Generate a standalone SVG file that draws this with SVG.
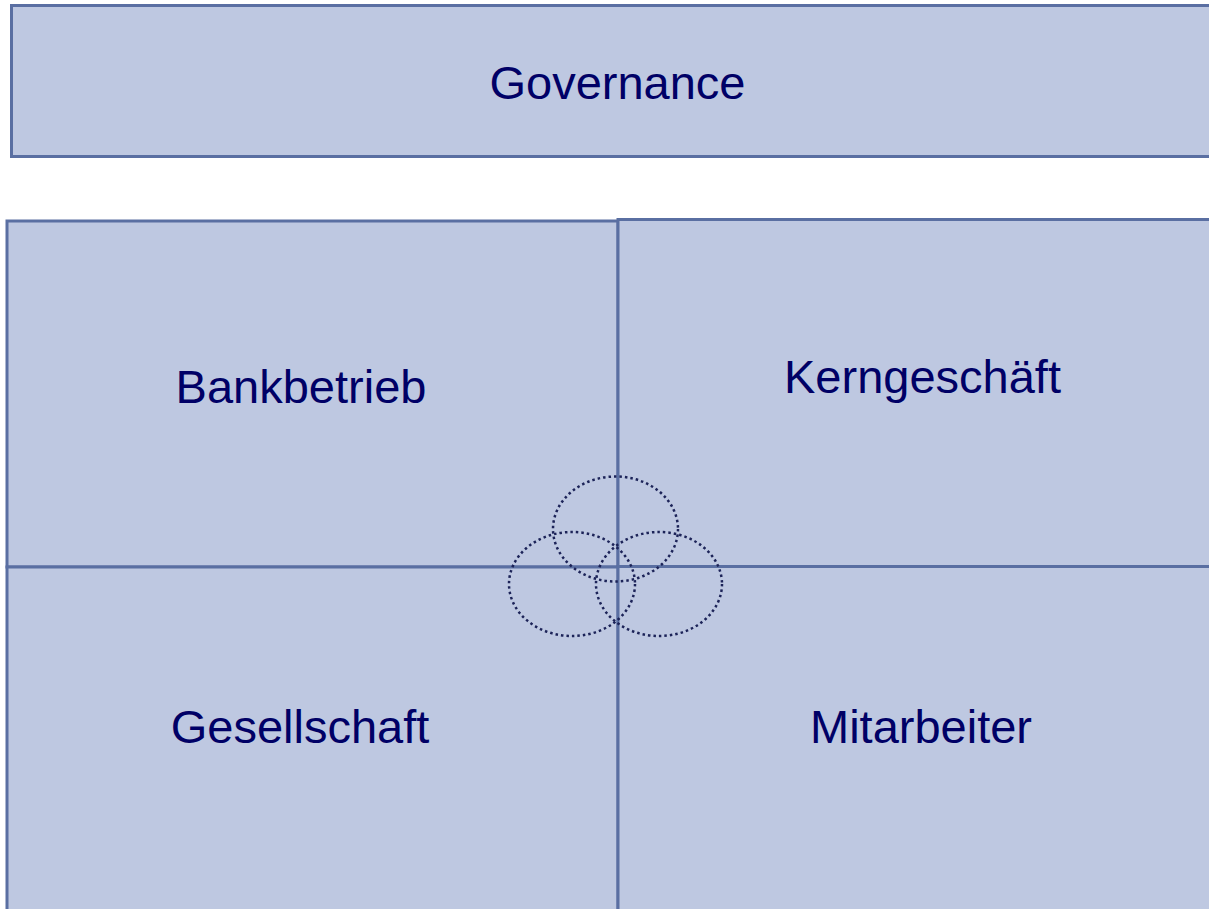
<svg xmlns="http://www.w3.org/2000/svg" width="1209" height="909" viewBox="0 0 1209 909">
  <style>
    .box { fill: #bec8e1; stroke: #5a6fa2; stroke-width: 3; }
    .lbl { font-family: "Liberation Sans", Arial, sans-serif; font-size: 47px; fill: #000066; text-anchor: middle; }
    .ring { fill: none; stroke: #1c2358; stroke-width: 2.5; stroke-dasharray: 2.5 3; }
  </style>
  <rect width="1209" height="909" fill="#ffffff"/>
  <g id="governance">
    <rect class="box" x="11.5" y="5.5" width="1210" height="151"/>
    <text class="lbl" x="617.5" y="99">Governance</text>
  </g>
  <g id="bankbetrieb">
    <rect class="box" x="7" y="221" width="611" height="346"/>
    <text class="lbl" x="301" y="403">Bankbetrieb</text>
  </g>
  <g id="kerngeschaeft">
    <rect class="box" x="618" y="219.5" width="605" height="347"/>
    <text class="lbl" x="922.5" y="393">Kerngeschäft</text>
  </g>
  <g id="gesellschaft">
    <rect class="box" x="7" y="567" width="611" height="400"/>
    <text class="lbl" x="300" y="743">Gesellschaft</text>
  </g>
  <g id="mitarbeiter">
    <rect class="box" x="618" y="566.5" width="605" height="400"/>
    <text class="lbl" x="921" y="743">Mitarbeiter</text>
  </g>
  <g id="connectors">
    <ellipse class="ring" cx="615.5" cy="529" rx="62.5" ry="52.5"/>
    <ellipse class="ring" cx="572" cy="584" rx="63" ry="52"/>
    <ellipse class="ring" cx="659" cy="584" rx="63" ry="52"/>
  </g>
</svg>
